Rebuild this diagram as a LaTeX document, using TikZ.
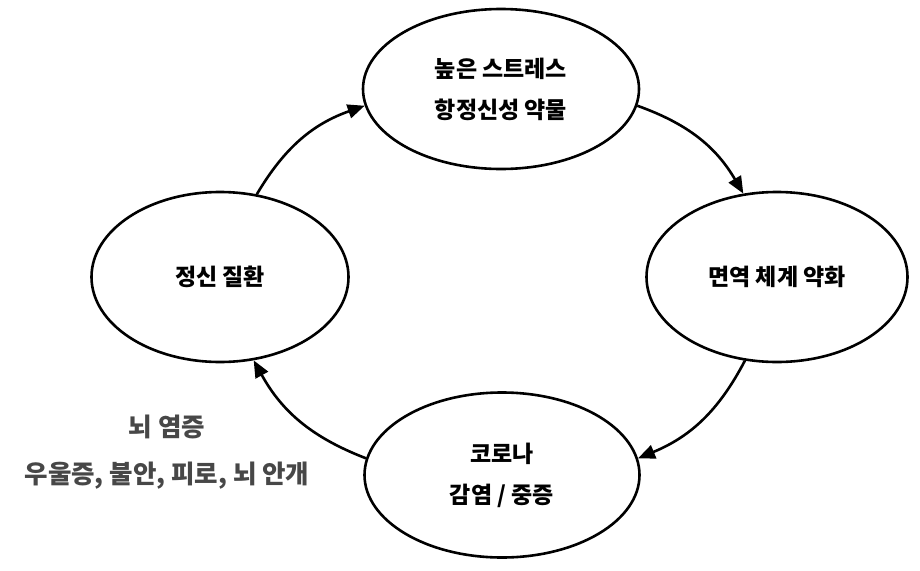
\documentclass[tikz,border=0pt]{standalone}
\usepackage{fontspec}
\setmainfont{Noto Sans CJK KR}
\usetikzlibrary{shapes.geometric,arrows.meta}
\tikzset{
  stage/.style={ellipse, draw=black, line width=2.6pt, inner sep=0pt, align=center,
    font=\fontsize{23}{41}\selectfont\bfseries},
  flow/.style={line width=2.6pt, -{Triangle[length=17pt,width=14pt]}, bend left=20},
  note/.style={align=center, text=black!72, font=\fontsize{25.5}{47}\selectfont\bfseries}
}
\begin{document}
\begin{tikzpicture}[x=1pt,y=-1pt]
\useasboundingbox[fill=white] (0,0) rectangle (920,570);
\node[stage, minimum width=276pt, minimum height=160pt] (top) at (501,89) {높은 스트레스\\항정신성 약물};
\node[stage, minimum width=261pt, minimum height=170pt] (right) at (777,277) {면역 체계 약화};
\node[stage, minimum width=275pt, minimum height=165pt] (bottom) at (502,475) {코로나\\감염 / 중증};
\node[stage, minimum width=257pt, minimum height=170pt] (left) at (220,277) {정신 질환};
\node[note] (lbl) at (167,452) {뇌 염증\\우울증, 불안, 피로, 뇌 안개};
\draw[flow] (left.66) to (top.187);
\draw[flow] (top.353) to (right.112);
\draw[flow] (right.249) to (bottom.7);
\draw[flow] (bottom.173) to (left.292);
\end{tikzpicture}
\end{document}
